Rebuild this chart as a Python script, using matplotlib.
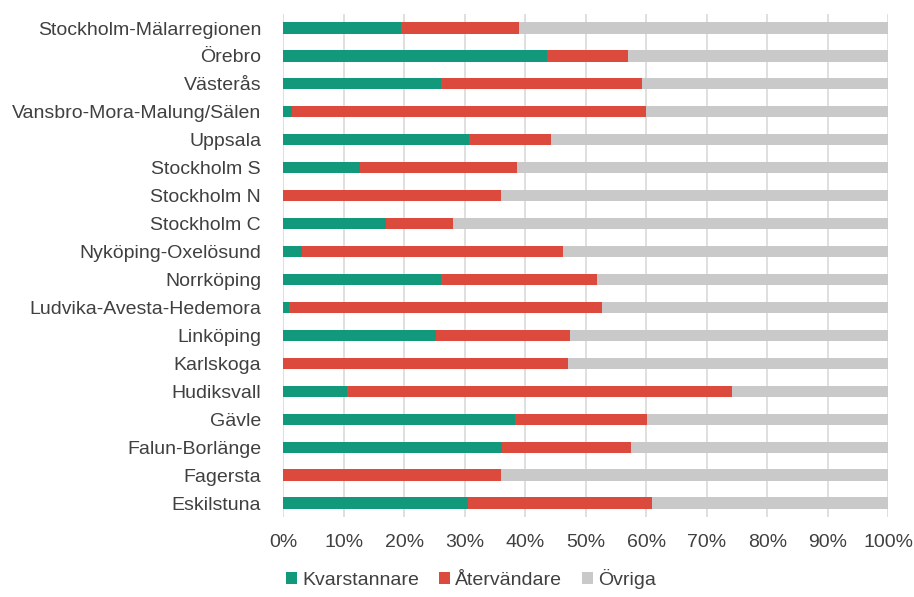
import matplotlib

matplotlib.use("Agg")
import matplotlib.pyplot as plt
import numpy as np

plt.rcParams["font.family"] = ["Liberation Sans", "DejaVu Sans"]

# top to bottom as shown
regions = [
    "Stockholm-Mälarregionen",
    "Örebro",
    "Västerås",
    "Vansbro-Mora-Malung/Sälen",
    "Uppsala",
    "Stockholm S",
    "Stockholm N",
    "Stockholm C",
    "Nyköping-Oxelösund",
    "Norrköping",
    "Ludvika-Avesta-Hedemora",
    "Linköping",
    "Karlskoga",
    "Hudiksvall",
    "Gävle",
    "Falun-Borlänge",
    "Fagersta",
    "Eskilstuna",
]
kvarstannare = [19.5, 43.5, 26.1, 1.5, 30.7, 12.7, 0.0, 17.0, 3.1,
                26.1, 0.9, 25.3, 0.0, 10.6, 38.3, 36.2, 0.0, 30.6]
atervandare = [19.5, 13.5, 33.2, 58.4, 13.5, 25.9, 36.0, 11.1, 43.2,
               25.8, 51.8, 22.1, 47.0, 63.6, 21.8, 21.2, 36.0, 30.4]
series_names = ["Kvarstannare", "Återvändare", "Övriga"]
colors = ["#12987a", "#db4a3d", "#c9c9c9"]

kv = np.array(kvarstannare) / 100
at = np.array(atervandare) / 100
ov = 1 - kv - at

fig, ax = plt.subplots(figsize=(9.14, 5.97), dpi=100)
fig.subplots_adjust(left=0.31, right=0.972, top=0.9765, bottom=0.134)

y = np.arange(len(regions))[::-1]
h = 0.4
ax.barh(y, kv, height=h, color=colors[0], label=series_names[0], zorder=3)
ax.barh(y, at, left=kv, height=h, color=colors[1], label=series_names[1], zorder=3)
ax.barh(y, ov, left=kv + at, height=h, color=colors[2], label=series_names[2], zorder=3)

ax.set_xlim(0, 1)
ax.set_ylim(-0.5, len(regions) - 0.5)
ax.set_xticks(np.linspace(0, 1, 11))
ax.set_xticklabels([f"{i}%" for i in range(0, 101, 10)])
ax.set_yticks(y)
ax.set_yticklabels(regions)
ax.tick_params(axis="both", length=0, labelsize=14, labelcolor="#404040")
ax.tick_params(axis="x", pad=12)
ax.tick_params(axis="y", pad=16)
ax.grid(axis="x", color="#d9d9d9", linewidth=1.2, zorder=0)
for s in ax.spines.values():
    s.set_visible(False)

leg = ax.legend(
    loc="center",
    bbox_to_anchor=(0.31, -0.123),
    ncol=3,
    frameon=False,
    fontsize=14,
    handlelength=0.6,
    handleheight=0.6,
    handletextpad=0.25,
    columnspacing=1.0,
    borderpad=0,
)
for t in leg.get_texts():
    t.set_color("#404040")

fig.savefig("out.png", dpi=100)
